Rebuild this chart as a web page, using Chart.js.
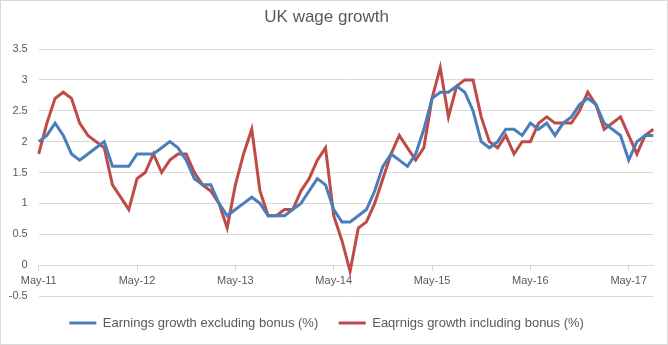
<!DOCTYPE html>
<html>
<head>
<meta charset="utf-8">
<title>UK wage growth</title>
<script src="https://cdn.jsdelivr.net/npm/chart.js@4.4.1/dist/chart.umd.min.js"></script>
<style>
  html, body { margin: 0; padding: 0; background: #ffffff; }
  #chart-wrapper { width: 668px; height: 345px; }
</style>
</head>
<body>
<div id="chart-wrapper"><canvas id="wageChart" width="668" height="345"></canvas></div>
<script>
// Monthly observations, May 2011 - Aug 2017
const months = [
  'May-11', 'Jun-11', 'Jul-11', 'Aug-11', 'Sep-11', 'Oct-11', 'Nov-11', 'Dec-11', 'Jan-12', 'Feb-12', 'Mar-12', 'Apr-12',
  'May-12', 'Jun-12', 'Jul-12', 'Aug-12', 'Sep-12', 'Oct-12', 'Nov-12', 'Dec-12', 'Jan-13', 'Feb-13', 'Mar-13', 'Apr-13',
  'May-13', 'Jun-13', 'Jul-13', 'Aug-13', 'Sep-13', 'Oct-13', 'Nov-13', 'Dec-13', 'Jan-14', 'Feb-14', 'Mar-14', 'Apr-14',
  'May-14', 'Jun-14', 'Jul-14', 'Aug-14', 'Sep-14', 'Oct-14', 'Nov-14', 'Dec-14', 'Jan-15', 'Feb-15', 'Mar-15', 'Apr-15',
  'May-15', 'Jun-15', 'Jul-15', 'Aug-15', 'Sep-15', 'Oct-15', 'Nov-15', 'Dec-15', 'Jan-16', 'Feb-16', 'Mar-16', 'Apr-16',
  'May-16', 'Jun-16', 'Jul-16', 'Aug-16', 'Sep-16', 'Oct-16', 'Nov-16', 'Dec-16', 'Jan-17', 'Feb-17', 'Mar-17', 'Apr-17',
  'May-17', 'Jun-17', 'Jul-17', 'Aug-17'
];

const excludingBonus = [
  2.0, 2.1, 2.3, 2.1, 1.8, 1.7, 1.8, 1.9, 2.0, 1.6, 1.6, 1.6,
  1.8, 1.8, 1.8, 1.9, 2.0, 1.9, 1.7, 1.4, 1.3, 1.3, 1.0, 0.8,
  0.9, 1.0, 1.1, 1.0, 0.8, 0.8, 0.8, 0.9, 1.0, 1.2, 1.4, 1.3,
  0.9, 0.7, 0.7, 0.8, 0.9, 1.2, 1.6, 1.8, 1.7, 1.6, 1.8, 2.2,
  2.7, 2.8, 2.8, 2.9, 2.8, 2.5, 2.0, 1.9, 2.0, 2.2, 2.2, 2.1,
  2.3, 2.2, 2.3, 2.1, 2.3, 2.4, 2.6, 2.7, 2.6, 2.3, 2.2, 2.1,
  1.7, 2.0, 2.1, 2.1
];

const includingBonus = [
  1.8, 2.3, 2.7, 2.8, 2.7, 2.3, 2.1, 2.0, 1.9, 1.3, 1.1, 0.9,
  1.4, 1.5, 1.8, 1.5, 1.7, 1.8, 1.8, 1.5, 1.3, 1.2, 1.0, 0.6,
  1.3, 1.8, 2.2, 1.2, 0.8, 0.8, 0.9, 0.9, 1.2, 1.4, 1.7, 1.9,
  0.8, 0.4, -0.1, 0.6, 0.7, 1.0, 1.4, 1.8, 2.1, 1.9, 1.7, 1.9,
  2.7, 3.2, 2.4, 2.9, 3.0, 3.0, 2.4, 2.0, 1.9, 2.1, 1.8, 2.0,
  2.0, 2.3, 2.4, 2.3, 2.3, 2.3, 2.5, 2.8, 2.6, 2.2, 2.3, 2.4,
  2.1, 1.8, 2.1, 2.2
];

const seriesNames = ['Earnings growth excluding bonus (%)', 'Eaqrnigs growth including bonus (%)'];
const seriesColors = ['#4a7ebb', '#be4b48'];
const yMin = -0.5;
const yMax = 3.5;
const yStep = 0.5;

const textColor = '#595959';
const gridColor = '#d9d9d9';
const fontFamily = "'Liberation Sans', Arial, sans-serif";

// thin grey frame round the whole chart, like the spreadsheet chart box
const chartBorder = {
  id: 'chartBorder',
  beforeDraw(chart) {
    const ctx = chart.ctx;
    ctx.save();
    ctx.fillStyle = '#ffffff';
    ctx.fillRect(0, 0, chart.width, chart.height);
    ctx.strokeStyle = gridColor;
    ctx.lineWidth = 1;
    ctx.strokeRect(0.5, 0.5, chart.width - 1, chart.height - 1);
    ctx.restore();
  }
};

new Chart(document.getElementById('wageChart'), {
  type: 'line',
  data: {
    labels: months,
    datasets: [
      {
        label: seriesNames[0],
        data: excludingBonus,
        borderColor: seriesColors[0],
        backgroundColor: seriesColors[0],
        borderWidth: 3
      },
      {
        label: seriesNames[1],
        data: includingBonus,
        borderColor: seriesColors[1],
        backgroundColor: seriesColors[1],
        borderWidth: 3
      }
    ]
  },
  options: {
    responsive: false,
    animation: false,
    layout: { padding: { left: 0, right: 14.7, top: 0, bottom: 5.5 } },
    elements: {
      point: { radius: 0 },
      line: { tension: 0 }
    },
    scales: {
      x: {
        type: 'category',
        position: { y: 0 },
        offset: false,
        grid: { drawOnChartArea: false, drawTicks: true, tickLength: 5, color: gridColor },
        border: { color: gridColor },
        ticks: {
          autoSkip: false,
          maxRotation: 0,
          padding: 4,
          color: textColor,
          font: { family: fontFamily, size: 11 }
        },
        // only label May of each year
        afterBuildTicks: (scale) => {
          scale.ticks = scale.ticks.filter(t => months[t.value].startsWith('May'));
        }
      },
      y: {
        min: yMin,
        max: yMax,
        grid: { color: gridColor, drawTicks: false },
        border: { display: false },
        ticks: {
          stepSize: yStep,
          padding: 11,
          color: textColor,
          font: { family: fontFamily, size: 11 },
          callback: (v) => String(Math.round(v * 10) / 10)
        },
        afterFit: (scale) => { scale.width = 38.7; }
      }
    },
    plugins: {
      title: {
        display: true,
        text: 'UK wage growth',
        color: textColor,
        font: { family: fontFamily, size: 17, weight: 'normal' },
        padding: { top: 7, bottom: 21.6 }
      },
      legend: {
        position: 'bottom',
        labels: {
          usePointStyle: true,
          pointStyle: 'line',
          pointStyleWidth: 27,
          padding: 20.5,
          color: textColor,
          font: { family: fontFamily, size: 13 }
        }
      },
      tooltip: { enabled: false }
    }
  },
  plugins: [chartBorder]
});
</script>
</body>
</html>
